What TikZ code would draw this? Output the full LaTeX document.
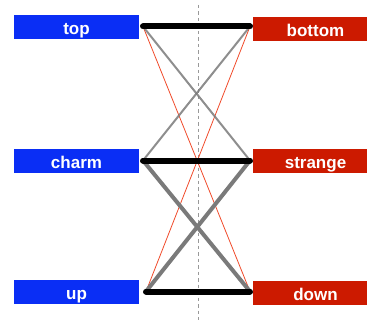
\documentclass[tikz,border=0pt]{standalone}
\usepackage{fontspec}
\setmainfont{Liberation Sans}
\usetikzlibrary{positioning,calc}
\definecolor{upblue}{HTML}{0A2EF5}
\definecolor{downred}{HTML}{CC1A00}
\definecolor{mixgray}{HTML}{7A7A7A}
\definecolor{rarered}{HTML}{F04A2A}
\tikzset{
  upbox/.style={fill=upblue, text=white, font=\bfseries\fontsize{17}{17}\selectfont, minimum width=125pt, minimum height=24pt, inner sep=0pt, text height=15pt, text depth=0pt},
  downbox/.style={upbox, fill=downred},
  bar/.style={line width=6pt, line cap=round, black},
  weak/.style={line width=2pt, mixgray, opacity=0.85},
  strong/.style={line width=4pt, mixgray},
  rare/.style={line width=0.8pt, rarered}}

\begin{document}
\begin{tikzpicture}[x=1pt, y=-1pt]
\useasboundingbox (0,0) rectangle (367,321);
\node[upbox] (t) at (76.5,27) {top};
\node[upbox] (c) at (76.5,161) {charm};
\node[upbox] (u) at (76.5,291.5) {up};
\node[downbox] (b) at (315.5,29.5) {bottom};
\node[downbox] (s) at (315.5,160.5) {strange};
\node[downbox] (d) at (315.5,292.5) {down};
% ends of the bars
\coordinate (tl) at (143,26.5); \coordinate (tr) at (250,26.5);
\coordinate (cl) at (143,160.5); \coordinate (sr) at (250,160.5);
\coordinate (ul) at (146,291.5); \coordinate (dr) at (250,291.5);
\draw[gray!80, dashed, line width=0.8pt, dash pattern=on 3.5pt off 3pt] (198,5) -- (198,320);
\draw[rare] (tl) -- (dr); \draw[rare] (tr) -- (ul);
\draw[weak] (tl) -- (sr); \draw[weak] (tr) -- (cl);
\draw[strong] (cl) -- (dr); \draw[strong] (sr) -- (ul);
\draw[bar] (tl) -- (tr); \draw[bar] (cl) -- (sr); \draw[bar] (ul) -- (dr);
\end{tikzpicture}
\end{document}
